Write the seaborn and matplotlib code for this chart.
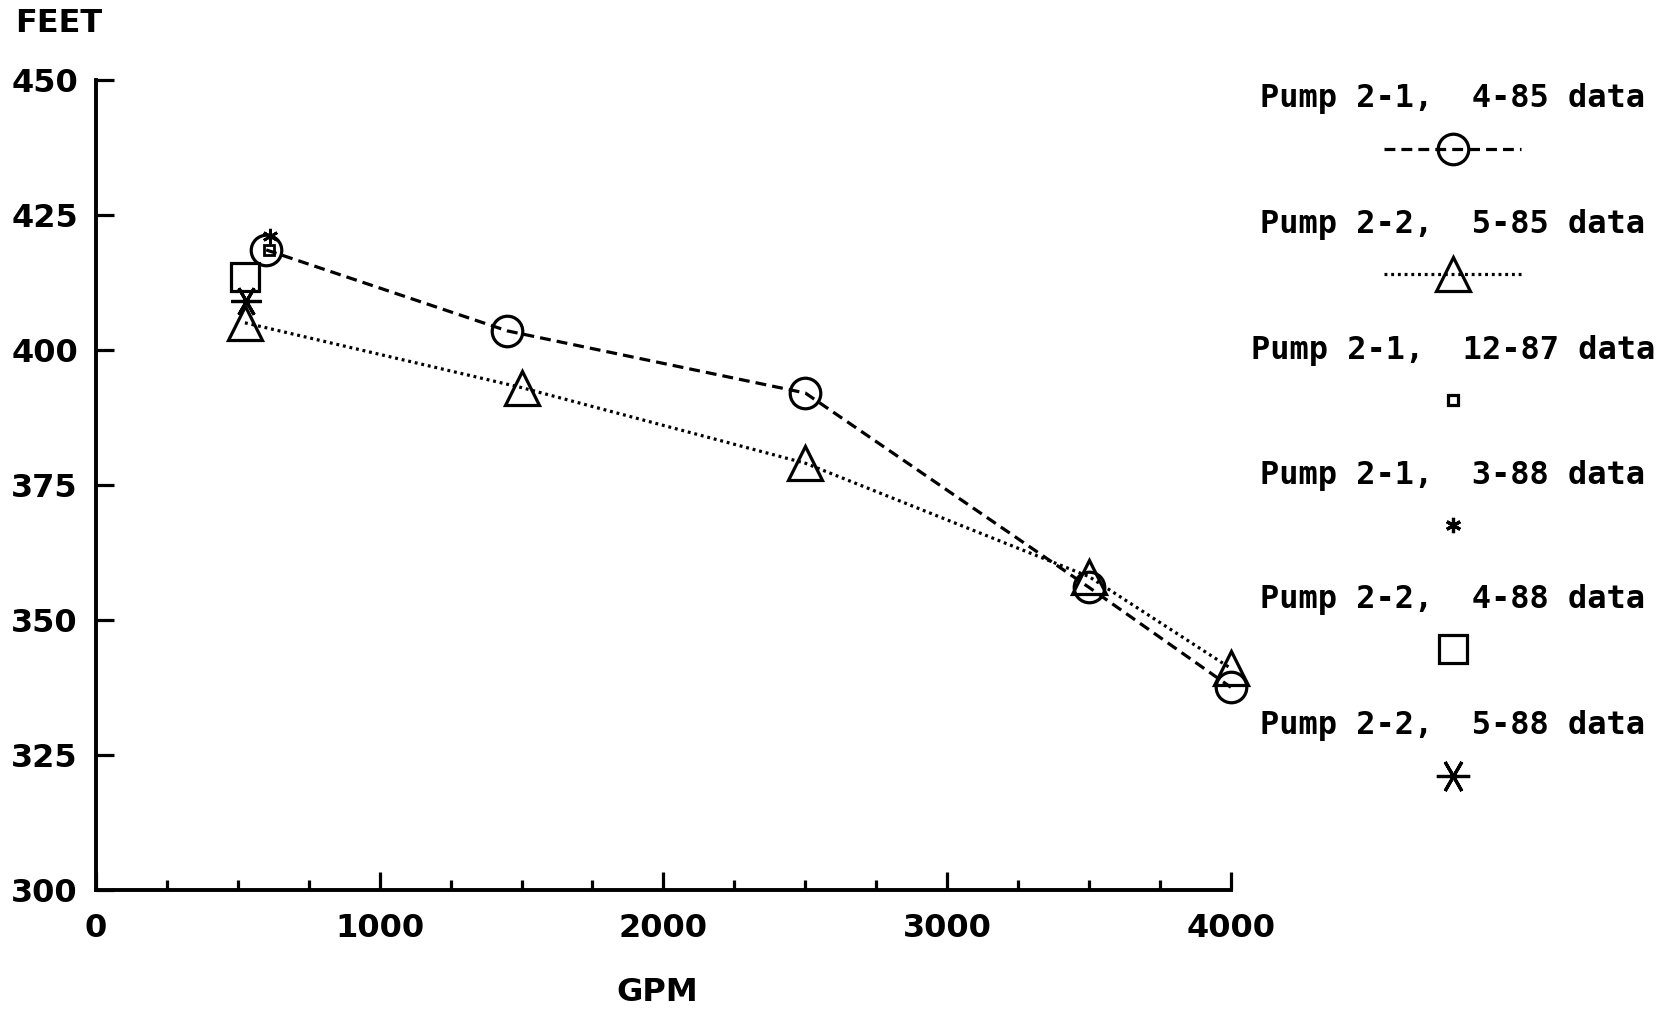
import numpy as np
import pandas as pd
import matplotlib
matplotlib.use('Agg')
import matplotlib.pyplot as plt
from matplotlib.lines import Line2D
from matplotlib.ticker import MultipleLocator
import seaborn as sns

# ── data ──────────────────────────────────────────────────────────────────────
gpm_21_485  = [600, 1450, 2500, 3500, 4000]
feet_21_485 = [418.5, 403.5, 392, 356, 337.5]

gpm_22_585  = [525, 1500, 2500, 3500, 4000]
feet_22_585 = [405, 393, 379, 358, 341]

gpm_21_1287, feet_21_1287 = [610], [418.5]
gpm_21_388,  feet_21_388  = [612], [421]
gpm_22_488,  feet_22_488  = [525], [413.5]
gpm_22_588,  feet_22_588  = [528], [409]

labels = ["Pump 2-1,  4-85 data", "Pump 2-2,  5-85 data", "Pump 2-1,  12-87 data",
          "Pump 2-1,  3-88 data", "Pump 2-2,  4-88 data", "Pump 2-2,  5-88 data"]

# ── style ─────────────────────────────────────────────────────────────────────
sns.set_style("ticks")
plt.rcParams['font.family'] = ['DejaVu Sans']
plt.rcParams['text.color'] = 'black'
plt.rcParams['xtick.labelcolor'] = 'black'
plt.rcParams['ytick.labelcolor'] = 'black'

fig = plt.figure(figsize=(16.69, 10.10), dpi=100)
ax = fig.add_axes([0.0575, 0.119, 0.68, 0.802])

lw = 2.3
dash = (0, (3.4, 1.9))
dots = (0, (0.9, 1.2))
sns.lineplot(x=gpm_21_485, y=feet_21_485, ax=ax, color='black', lw=lw,
             linestyle=dash, marker='o', markersize=22, clip_on=False,
             markerfacecolor='none', markeredgecolor='black', markeredgewidth=lw)
sns.lineplot(x=gpm_22_585, y=feet_22_585, ax=ax, color='black', lw=lw,
             linestyle=dots, marker='^', markersize=24, clip_on=False,
             markerfacecolor='none', markeredgecolor='black', markeredgewidth=lw)
ax.plot(gpm_21_1287, feet_21_1287, ls='none', marker='s', markersize=7,
        mfc='none', mec='black', mew=2)
ax.plot(gpm_21_388, feet_21_388, ls='none', marker=(6, 2, 0), markersize=11,
        mec='black', mew=2)
ax.plot(gpm_22_488, feet_22_488, ls='none', marker='s', markersize=20,
        mfc='none', mec='black', mew=lw)
ax.plot(gpm_22_588, feet_22_588, ls='none', marker=(6, 2, 90), markersize=22,
        mec='black', mew=lw)

ax.set_xlim(0, 4000)
ax.set_ylim(300, 450)
ax.xaxis.set_major_locator(MultipleLocator(1000))
ax.xaxis.set_minor_locator(MultipleLocator(250))
ax.yaxis.set_major_locator(MultipleLocator(25))
ax.tick_params(axis='both', which='major', direction='in', length=13, width=2.3,
               labelsize=23, color='black', labelcolor='black')
ax.tick_params(axis='x', which='minor', direction='in', length=7, width=2.3,
               color='black')
ax.tick_params(axis='x', which='major', pad=17)
ax.tick_params(axis='y', which='major', pad=13)
for t in ax.get_xticklabels() + ax.get_yticklabels():
    t.set_fontweight('bold')
sns.despine(ax=ax)
for s in ['left', 'bottom']:
    ax.spines[s].set_linewidth(2.8)
    ax.spines[s].set_color('black')
ax.set_xlabel('')
ax.set_ylabel('')

fig.text(0.009, 0.977, 'FEET', fontsize=23, fontweight='bold', ha='left', va='center')
fig.text(0.394, 0.017, 'GPM', fontsize=23, fontweight='bold', ha='center', va='center')

# ── legend: label above sample ───────────────────────────────────────────────
cx = 0.8705
text_y = [0.902, 0.778, 0.653, 0.529, 0.406, 0.282]
mark_y = [0.852, 0.729, 0.604, 0.480, 0.357, 0.232]
for lab, ty in zip(labels, text_y):
    fig.text(cx, ty, lab, fontsize=23, family='DejaVu Sans Mono', fontweight='bold',
             ha='center', va='center')

samples = [
    dict(ls=dash, marker='o', ms=22),
    dict(ls=dots, marker='^', ms=24),
    dict(ls='none', marker='s', ms=7),
    dict(ls='none', marker=(6, 2, 0), ms=11),
    dict(ls='none', marker='s', ms=20),
    dict(ls='none', marker=(6, 2, 90), ms=24),
]
for kw, my in zip(samples, mark_y):
    if kw['ls'] != 'none':
        fig.add_artist(Line2D([cx - 0.041, cx + 0.041], [my, my],
                              transform=fig.transFigure, color='black', lw=lw,
                              ls=kw['ls']))
    fig.add_artist(Line2D([cx], [my], transform=fig.transFigure, ls='none',
                          marker=kw['marker'], ms=kw['ms'], mfc='none',
                          mec='black', mew=lw))

fig.savefig('out.png', dpi=100)
